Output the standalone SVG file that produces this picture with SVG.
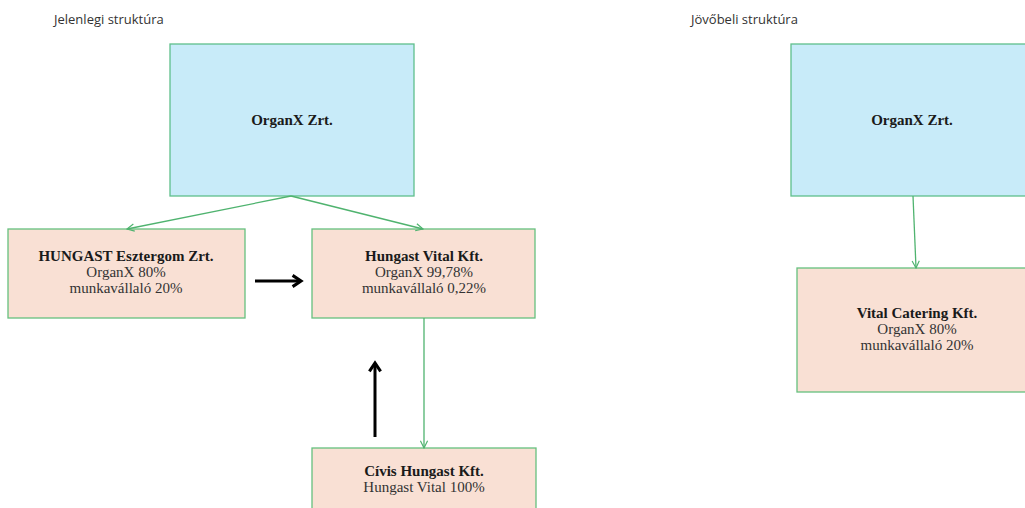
<svg xmlns="http://www.w3.org/2000/svg" width="1025" height="508" viewBox="0 0 1025 508">
<defs>
<style>
.title{font-family:"Open Sans","Liberation Sans",sans-serif;font-size:13px;fill:#333}
.blue{fill:#c8ebf9;stroke:#5fbf8c;stroke-width:1.3}
.peach{fill:#f9e0d4;stroke:#66c07e;stroke-width:1.3}
.t{font-family:"Liberation Serif","Times New Roman",serif;font-size:15px;fill:#333;text-anchor:middle}
.b{font-weight:bold;fill:#1a1a1a}
.g{stroke:#4fb36f;stroke-width:1.3;fill:none}
.k{stroke:#000;stroke-width:3;fill:none}
</style>
<marker id="ga" viewBox="0 0 10 10" refX="9" refY="5" markerWidth="9" markerHeight="9" markerUnits="userSpaceOnUse" orient="auto">
<polyline points="1,1 9,5 1,9" fill="none" stroke="#4fb36f" stroke-width="1.3"/>
</marker>
<marker id="ka" viewBox="0 0 10 10" refX="8" refY="5" markerWidth="14" markerHeight="14" markerUnits="userSpaceOnUse" orient="auto">
<polyline points="2,1 8,5 2,9" fill="none" stroke="#000" stroke-width="2.2"/>
</marker>
</defs>
<text class="title" x="54" y="24">Jelenlegi struktúra</text>
<text class="title" x="691" y="24">Jövőbeli struktúra</text>
<g id="n-organx-left">
<rect class="blue" x="170" y="44" width="244" height="152"/>
<text class="t b" x="292" y="125">OrganX Zrt.</text>
</g>
<g id="n-hungast-esztergom">
<rect class="peach" x="8" y="229" width="237" height="89"/>
<text class="t b" x="126" y="261">HUNGAST Esztergom Zrt.</text>
<text class="t" x="126" y="277">OrganX 80%</text>
<text class="t" x="126" y="293">munkavállaló 20%</text>
</g>
<g id="n-hungast-vital">
<rect class="peach" x="312" y="229" width="223" height="89"/>
<text class="t b" x="424" y="261">Hungast Vital Kft.</text>
<text class="t" x="424" y="277">OrganX 99,78%</text>
<text class="t" x="424" y="293">munkavállaló 0,22%</text>
</g>
<g id="n-civis">
<rect class="peach" x="312" y="448" width="224" height="70"/>
<text class="t b" x="424" y="476">Cívis Hungast Kft.</text>
<text class="t" x="424" y="492">Hungast Vital 100%</text>
</g>
<g id="n-organx-right">
<rect class="blue" x="791" y="44" width="250" height="152"/>
<text class="t b" x="912" y="125">OrganX Zrt.</text>
</g>
<g id="n-vital-catering">
<rect class="peach" x="797" y="268" width="240" height="124"/>
<text class="t b" x="917" y="318">Vital Catering Kft.</text>
<text class="t" x="917" y="334">OrganX 80%</text>
<text class="t" x="917" y="350">munkavállaló 20%</text>
</g>
<g id="connectors">
<line class="g" x1="291" y1="196" x2="127" y2="229" marker-end="url(#ga)"/>
<line class="g" x1="291" y1="196" x2="423" y2="229" marker-end="url(#ga)"/>
<line class="g" x1="424" y1="318" x2="424" y2="448" marker-end="url(#ga)"/>
<line class="g" x1="913" y1="196" x2="916" y2="268" marker-end="url(#ga)"/>
<line class="k" x1="255" y1="281" x2="301" y2="281" marker-end="url(#ka)"/>
<line class="k" x1="375" y1="437" x2="375" y2="363" marker-end="url(#ka)"/>
</g>
</svg>
